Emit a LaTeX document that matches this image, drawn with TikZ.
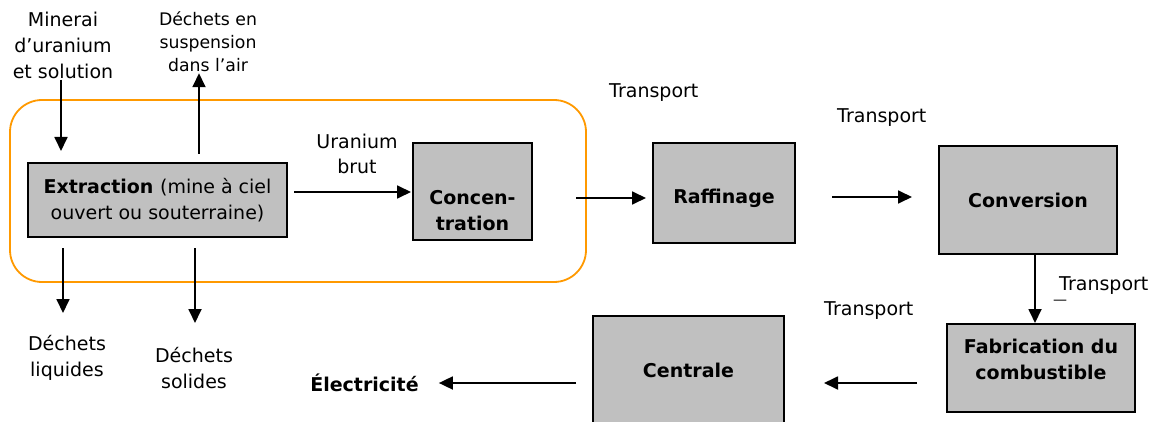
\documentclass[tikz,border=0pt]{standalone}
\usepackage{fontspec}
\setmainfont{DejaVu Sans}
\usetikzlibrary{arrows.meta}
\definecolor{boxgray}{RGB}{192,192,192}
\definecolor{frameorange}{RGB}{255,153,0}
\tikzset{
  stepbox/.style={draw=black, line width=2pt, fill=boxgray, inner sep=0pt,
    align=center, font=\bfseries\fontsize{19}{26.5}\selectfont},
  boxtext/.style={align=center, inner sep=0pt,
    font=\bfseries\fontsize{19}{26}\selectfont},
  lbl/.style={inner sep=1pt, align=center, font=\fontsize{19}{26}\selectfont},
  arr/.style={line width=1.8pt, -{Triangle[length=14pt,width=13pt]}},
  grpframe/.style={draw=frameorange, line width=1.8pt, rounded corners=32pt,
    inner sep=0pt}
}
\begin{document}
\begin{tikzpicture}[x=1pt,y=-1pt]
\useasboundingbox (0,0) rectangle (1153,422);
\clip (0,0) rectangle (1153,422);

% group frame around extraction and concentration
\node[grpframe, minimum width=576pt, minimum height=182pt] (grp) at (298,191) {};

% process boxes
\node[stepbox, minimum width=259pt, minimum height=74pt] (extr) at (157.5,200)
  {Extraction {\mdseries (mine à ciel}\\{\mdseries ouvert ou souterraine)}};
\node[stepbox, minimum width=119pt, minimum height=97pt,
  label={[name=conctxt, yshift=-19pt, boxtext]center:Concen-\\tration}]
  (conc) at (472.5,191.5) {};
\node[stepbox, minimum width=142pt, minimum height=100pt,
  label={[name=rafftxt, yshift=-5pt, boxtext]center:Raffinage}]
  (raff) at (724,193) {};
\node[stepbox, minimum width=178pt, minimum height=108pt] (conv) at (1028,200)
  {Conversion};
\node[stepbox, minimum width=188pt, minimum height=88pt,
  label={[name=fabtxt, yshift=9pt, boxtext]center:Fabrication du\\combustible}]
  (fab) at (1041,368) {};
\node[stepbox, minimum width=191pt, minimum height=114pt,
  label={[name=centtxt, yshift=3pt, boxtext]center:Centrale}]
  (cent) at (688.5,373) {};

% labels
\node[lbl] (minerai) at (63,45) {Minerai\\d’uranium\\et solution};
\node[lbl, font=\fontsize{17.3}{23}\selectfont] (susp) at (208,42)
  {Déchets en\\suspension\\dans l’air};
\node[lbl, font=\fontsize{19}{25}\selectfont] (brut) at (357,154) {Uranium\\brut};
\node[lbl, anchor=base west] (tr1) at (608,98) {Transport};
\node[lbl, anchor=base west] (tr2) at (836,123) {Transport};
\node[lbl, anchor=base west] (tr3) at (1058,290) {Transport};
\node[lbl, font=\fontsize{14}{16}\selectfont] (tr3dash) at (1060,302) {—};
\node[lbl, anchor=base west] (tr4) at (823,315) {Transport};
\node[lbl] (liq) at (67,358) {Déchets\\liquides};
\node[lbl] (sol) at (194,368) {Déchets\\solides};
\node[lbl, font=\bfseries\fontsize{19}{26}\selectfont] (elec) at (364.5,383) {Électricité};

% flows
\draw[arr] ([xshift=-2pt]minerai.south) -- ([xshift=-2pt,yshift=11pt]minerai.south |- extr.north);
\draw[arr] ([xshift=41.5pt,yshift=8pt]extr.north) -- ([xshift=41.5pt]extr.north |- susp.south);
\draw[arr] ([xshift=-94.5pt,yshift=-10pt]extr.south) -- ([xshift=-94.5pt,yshift=-75pt]extr.south);
\draw[arr] ([xshift=37.5pt,yshift=-10pt]extr.south) -- ([xshift=37.5pt,yshift=-85pt]extr.south);
\draw[arr] ([xshift=6pt,yshift=8pt]extr.east) -- ([xshift=-1pt,yshift=8pt]extr.east -| conc.west);
\draw[arr] ([xshift=43pt,yshift=-5pt]conc.east |- raff.west) -- ([xshift=-6pt,yshift=-5pt]raff.west);
\draw[arr] ([xshift=36pt,yshift=-4pt]raff.east) -- ([xshift=-26pt,yshift=3pt]conv.west);
\draw[arr] ([xshift=7pt]conv.south) -- ([xshift=7pt]conv.south |- fab.north);
\draw[arr] ([xshift=-29pt,yshift=-15pt]fab.west) -- ([xshift=39pt,yshift=-10pt]cent.east);
\draw[arr] ([xshift=-16pt,yshift=-10pt]cent.west) -- ([xshift=19pt]elec.east);
\end{tikzpicture}
\end{document}
